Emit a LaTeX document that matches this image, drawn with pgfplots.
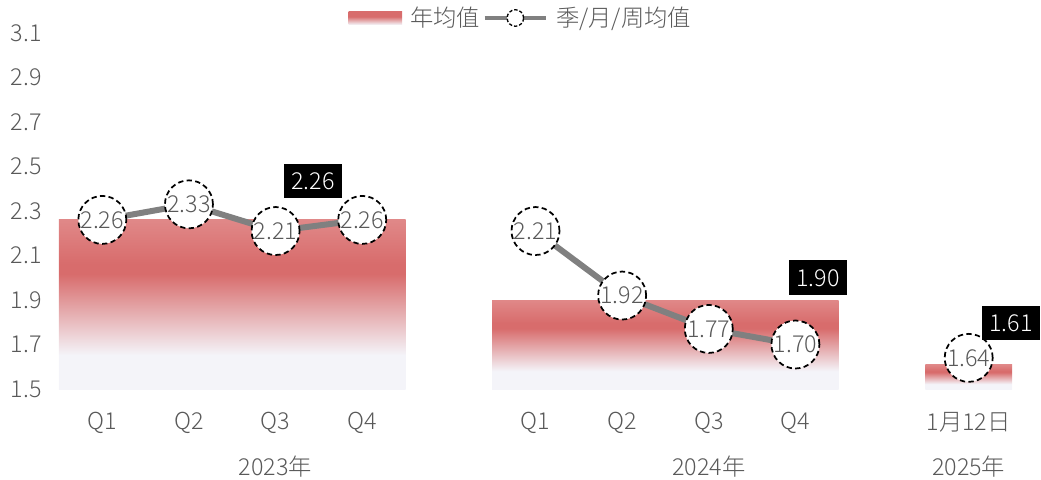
\documentclass[border=0pt]{standalone}
\usepackage{pgfplots}
\pgfplotsset{compat=1.18}
\usepackage{fontspec}
\setmainfont{Noto Sans CJK SC}[UprightFont={* Light}]
\definecolor{barred}{HTML}{D86C6C}
\definecolor{bartop}{HTML}{E08888}
\definecolor{barpale}{HTML}{F4F4F9}
\definecolor{txtgray}{HTML}{595959}
\definecolor{linegray}{HTML}{808080}
\pgfdeclareverticalshading{yeargrad}{100bp}{color(0bp)=(barpale); color(35bp)=(barpale); color(59bp)=(barred); color(62bp)=(barred); color(75bp)=(bartop); color(100bp)=(bartop)}
\pgfdeclareverticalshading{legendgrad}{100bp}{color(0bp)=(barpale); color(25bp)=(barpale); color(55bp)=(barred); color(75bp)=(barred); color(100bp)=(barred)}
\begin{document}
\begin{tikzpicture}
\begin{axis}[
  scale only axis, width=714.75pt, height=267pt,
  xmin=-0.5, xmax=10.5, ymin=1.5, ymax=3.1,
  clip=false,
  axis x line*=bottom, axis y line*=left,
  axis line style={draw=none},
  major tick length=0pt, tick style={draw=none},
  ytick={1.5,1.7,1.9,2.1,2.3,2.5,2.7,2.9,3.1},
  yticklabels={1.5,1.7,1.9,2.1,2.3,2.5,2.7,2.9,3.1},
  xtick={0,1,2,3,5,6,7,8,10},
  xticklabels={Q1,Q2,Q3,Q4,Q1,Q2,Q3,Q4,1月12日},
  extra x ticks={2,7,10},
  extra x tick labels={2023年,2024年,2025年},
  extra x tick style={xticklabel style={yshift=-33pt}},
  tick label style={font=\fontsize{17.5}{20}\selectfont, text=txtgray},
  yticklabel style={anchor=east, inner sep=0pt, xshift=-12.75pt},
  xticklabel style={anchor=north, inner sep=0pt, yshift=-17pt},
  legend style={at={(0.485,1)}, anchor=center, yshift=11.25pt, draw=none, fill=none,
    font=\fontsize{17.5}{20}\selectfont, text=txtgray, legend columns=2,
    /tikz/every odd column/.append style={column sep=4pt}},
]
% year-average bars
\addplot[draw=none, shade, shading=yeargrad, forget plot] coordinates {(-0.5,1.5) (-0.5,2.26) (3.5,2.26) (3.5,1.5)} -- cycle;
\addplot[draw=none, shade, shading=yeargrad, forget plot] coordinates {(4.5,1.5) (4.5,1.90) (8.5,1.90) (8.5,1.5)} -- cycle;
\addplot[draw=none, shade, shading=yeargrad, forget plot] coordinates {(9.5,1.5) (9.5,1.61) (10.5,1.61) (10.5,1.5)} -- cycle;
% quarterly / monthly / weekly averages
\pgfplotsset{qline/.style={linegray, line width=4.5pt, mark=*, mark size=18pt,
  mark options={draw=black, fill=white, line width=1.3pt, dash pattern=on 4pt off 2.5pt},
  nodes near coords, point meta=explicit symbolic,
  every node near coord/.append style={anchor=center, inner sep=0pt, text=txtgray, font=\fontsize{17.5}{20}\selectfont},
  forget plot}}
\addplot[qline] coordinates {(0,2.26)[2.26] (1,2.33)[2.33] (2,2.21)[2.21] (3,2.26)[2.26]};
\addplot[qline] coordinates {(5,2.21)[2.21] (6,1.92)[1.92] (7,1.77)[1.77] (8,1.70)[1.70]};
\addplot[qline] coordinates {(10,1.64)[1.64]};
% annual value labels
\addplot[draw=none, mark=none, nodes near coords, point meta=explicit symbolic,
  every node near coord/.append style={anchor=center, inner sep=0pt, fill=black, text=white,
    minimum width=43pt, minimum height=26pt, font=\fontsize{17.5}{20}\selectfont},
  forget plot] coordinates {(2.43,2.435)[2.26] (8.26,2.0)[1.90] (10.49,1.797)[1.61]};
\addlegendimage{legend image code/.code={\shade[draw=none, shading=legendgrad] (0pt,-5pt) rectangle (40pt,5pt);}}
\addlegendentry{年均值}
\addlegendimage{legend image code/.code={\draw[linegray, line width=3pt] (0pt,0pt) -- (46pt,0pt); \draw[black, fill=white, line width=1pt, dash pattern=on 2.5pt off 1.5pt] (23pt,0pt) circle (6.2pt);}}
\addlegendentry{季/月/周均值}
\end{axis}
\pgfresetboundingbox
\path (-44.25pt,-67.5pt) rectangle (736.5pt,291.75pt);
\end{tikzpicture}
\end{document}
